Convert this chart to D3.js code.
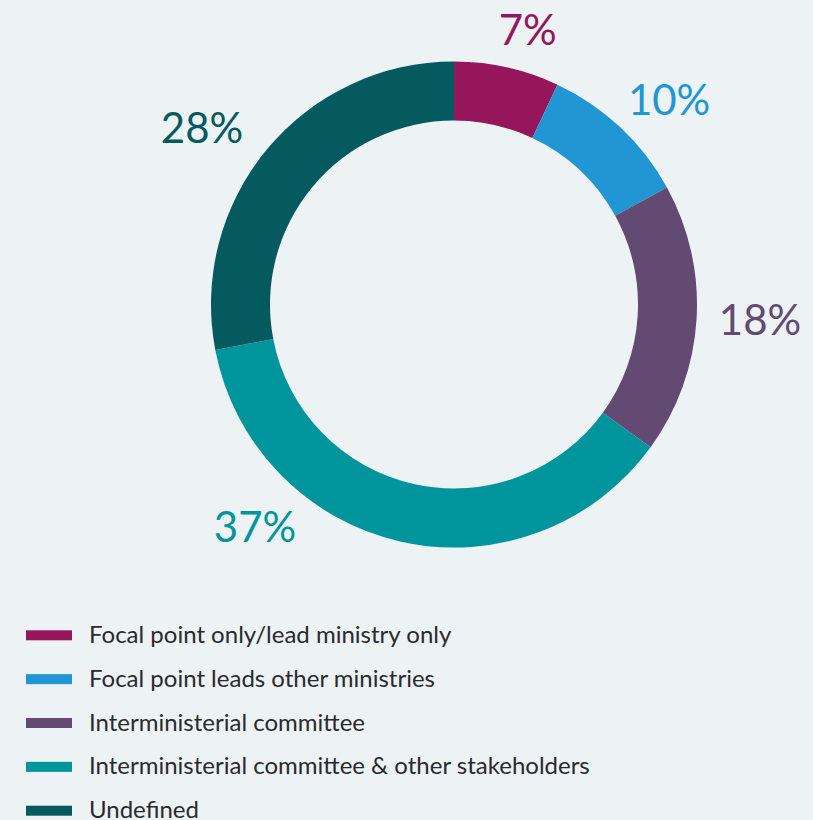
<!DOCTYPE html>
<html>
<head>
<meta charset="utf-8">
<script src="https://cdn.jsdelivr.net/npm/d3@7"></script>
<style>
  html, body { margin: 0; padding: 0; background: #EDF2F5; }
  svg { display: block; }
</style>
</head>
<body>
<svg id="chart" width="813" height="820"></svg>
<script>
// ---- data ----
const categories = [
  "Focal point only/lead ministry only",
  "Focal point leads other ministries",
  "Interministerial committee",
  "Interministerial committee & other stakeholders",
  "Undefined"
];
const values = [7, 10, 18, 37, 28];
const labels = ["7%", "10%", "18%", "37%", "28%"];

// ---- style / layout ----
const colors = ["#95165A", "#2196D4", "#634A73", "#00959D", "#055A5F"];
const labelAngleDeg = [15.0, 46.4, 92.8, 221.8, 305.0];
const labelRadius = [284.6, 297, 306.4, 298.5, 307.7];

const W = 813, H = 820;
const cx = 454, cy = 304.5;
const outerR = 243, innerR = 184;

const svg = d3.select("#chart");
svg.append("rect").attr("width", W).attr("height", H).attr("fill", "#EDF2F5");

const pie = d3.pie().sort(null).value(d => d).startAngle(0).endAngle(2 * Math.PI);
const arc = d3.arc().innerRadius(innerR).outerRadius(outerR);

const g = svg.append("g").attr("transform", `translate(${cx},${cy})`);
const arcs = pie(values);

g.selectAll("path.slice")
  .data(arcs)
  .join("path")
  .attr("class", "slice")
  .attr("d", arc)
  .attr("fill", (d, i) => colors[i]);

g.selectAll("text.pct")
  .data(arcs)
  .join("text")
  .attr("class", "pct")
  .attr("x", (d, i) => labelRadius[i] * Math.sin(labelAngleDeg[i] * Math.PI / 180))
  .attr("y", (d, i) => -labelRadius[i] * Math.cos(labelAngleDeg[i] * Math.PI / 180))
  .attr("dy", "0.36em")
  .attr("text-anchor", "middle")
  .attr("font-family", "Lato, 'Open Sans', sans-serif")
  .attr("font-size", 42)
  .attr("fill", (d, i) => colors[i])
  .text((d, i) => labels[i]);

// ---- legend ----
const legend = svg.append("g");
const rowY = d3.scaleLinear().domain([0, 1]).range([635.3, 679.15]);
const rows = legend.selectAll("g.row")
  .data(categories)
  .join("g")
  .attr("class", "row")
  .attr("transform", (d, i) => `translate(0,${rowY(i)})`);

rows.append("rect")
  .attr("x", 26).attr("y", -5)
  .attr("width", 46).attr("height", 10)
  .attr("fill", (d, i) => colors[i]);

rows.append("text")
  .attr("x", 89).attr("y", 7.5)
  .attr("font-family", "Lato, 'Open Sans', sans-serif")
  .attr("font-size", 24)
  .attr("fill", "#2a2a2e")
  .text(d => d);
</script>
</body>
</html>
